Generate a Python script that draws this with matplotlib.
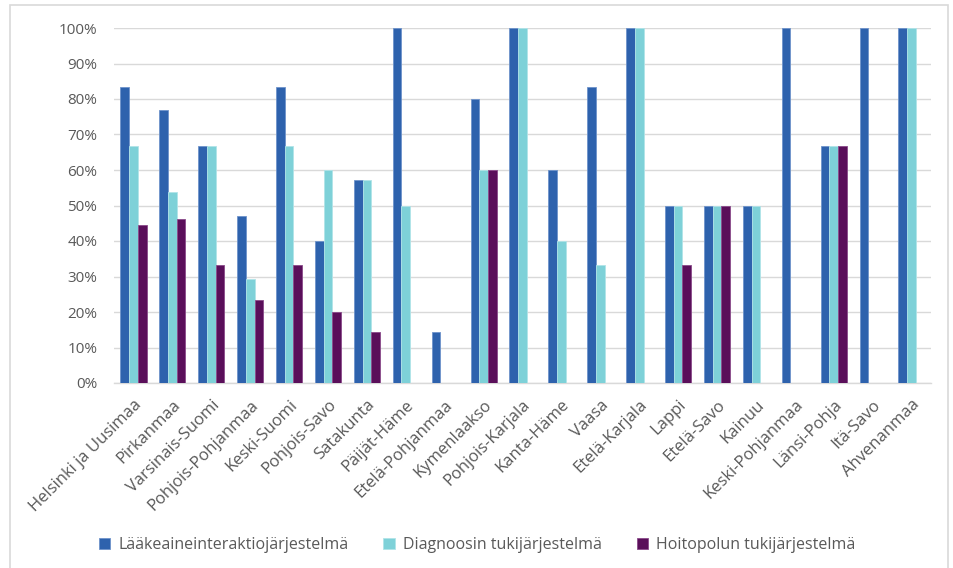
import matplotlib
matplotlib.use("Agg")
import matplotlib.pyplot as plt
from matplotlib.patches import Rectangle
from matplotlib.ticker import PercentFormatter, MultipleLocator
import numpy as np

regions = ["Helsinki ja Uusimaa", "Pirkanmaa", "Varsinais-Suomi", "Pohjois-Pohjanmaa",
           "Keski-Suomi", "Pohjois-Savo", "Satakunta", "Päijät-Häme", "Etelä-Pohjanmaa",
           "Kymenlaakso", "Pohjois-Karjala", "Kanta-Häme", "Vaasa", "Etelä-Karjala",
           "Lappi", "Etelä-Savo", "Kainuu", "Keski-Pohjanmaa", "Länsi-Pohja",
           "Itä-Savo", "Ahvenanmaa"]
laakeaine = [83.3, 76.9, 66.7, 47.1, 83.3, 40.0, 57.1, 100, 14.3, 80.0, 100, 60.0,
             83.3, 100, 50.0, 50.0, 50.0, 100, 66.7, 100, 100]
diagnoosi = [66.7, 53.8, 66.7, 29.4, 66.7, 60.0, 57.1, 50.0, 0, 60.0, 100, 40.0,
             33.3, 100, 50.0, 50.0, 50.0, 0, 66.7, 0, 100]
hoitopolku = [44.4, 46.2, 33.3, 23.5, 33.3, 20.0, 14.3, 0, 0, 60.0, 0, 0,
              0, 0, 33.3, 50.0, 0, 0, 66.7, 0, 0]
series_names = ["Lääkeaineinteraktiojärjestelmä", "Diagnoosin tukijärjestelmä",
                "Hoitopolun tukijärjestelmä"]
colors = ["#2E62AD", "#7ED1D8", "#5A0F5A"]
edges = ["#6E93CB", "#B0E4E8", "#8A4A8A"]

plt.rcParams['font.family'] = ['Open Sans', 'DejaVu Sans']

fig = plt.figure(figsize=(9.54, 5.68), dpi=100)
ax = fig.add_axes([114/954, 1-383/568, (931-114)/954, (383-28)/568])

# outer frame of the chart area
fig.patches.append(Rectangle((10/954, -0.02), (948-10)/954, 1-5/568+0.02,
                             transform=fig.transFigure, fill=False,
                             edgecolor="#D9D9D9", linewidth=1.2))

x = np.arange(len(regions))
w = 0.224
for i, (vals, c, ec, name) in enumerate(zip([laakeaine, diagnoosi, hoitopolku],
                                            colors, edges, series_names)):
    ax.bar(x + (i - 1) * w, vals, width=w, color=c, edgecolor=ec, linewidth=0.6,
           label=name, zorder=3)

ax.set_xlim(-0.5, len(regions) - 0.5)
ax.set_ylim(0, 100)
ax.yaxis.set_major_locator(MultipleLocator(10))
ax.yaxis.set_major_formatter(PercentFormatter(decimals=0))
ax.grid(axis="y", color="#D9D9D9", linewidth=1.0, zorder=0)
for s in ["top", "right", "left"]:
    ax.spines[s].set_visible(False)
ax.spines["bottom"].set_color("#D9D9D9")
ax.spines["bottom"].set_linewidth(1.0)
ax.tick_params(axis="both", length=0, colors="#595959")
ax.tick_params(axis="y", pad=12, labelsize=11)
ax.set_xticks(x)
ax.set_xticklabels(regions, rotation=45, ha="right", rotation_mode="anchor",
                   fontsize=12, color="#595959")
ax.tick_params(axis="x", pad=10)

leg = fig.legend(loc="center", bbox_to_anchor=(0.5, 1 - 545/568), ncol=3,
                 frameon=False, fontsize=11.5, handlelength=0.7, handleheight=0.7,
                 columnspacing=2.2, handletextpad=0.5)
for t in leg.get_texts():
    t.set_color("#595959")

fig.savefig("out.png", dpi=100)
